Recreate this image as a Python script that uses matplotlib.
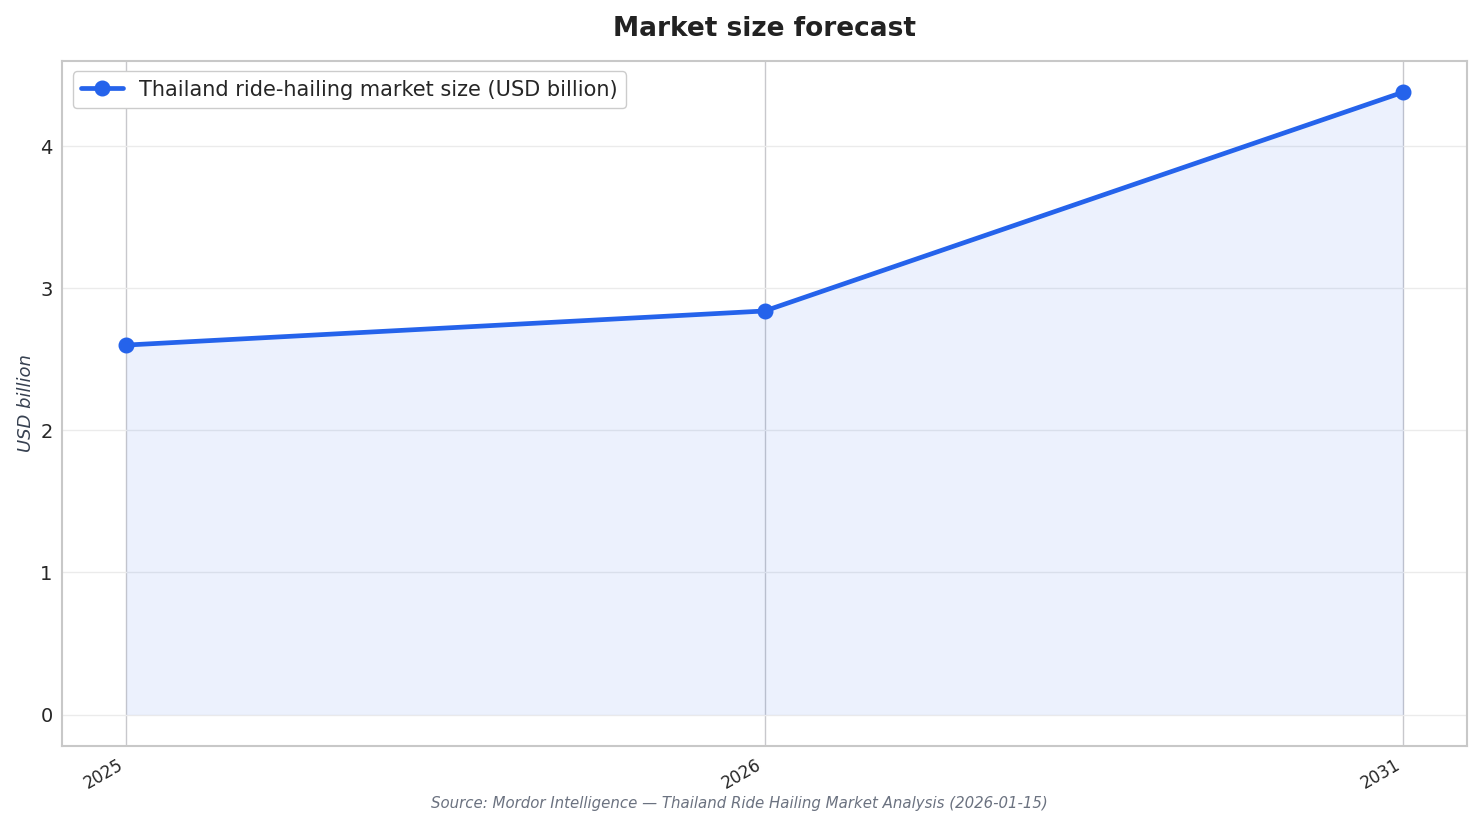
import matplotlib
matplotlib.use("Agg")
import matplotlib.pyplot as plt
import seaborn as sns

years = ["2025", "2026", "2031"]
market_size = [2.60, 2.84, 4.38]

sns.set_style("whitegrid")
plt.rcParams["font.family"] = ["DejaVu Sans"]

fig, ax = plt.subplots(figsize=(14.82, 8.24), dpi=100)
fig.subplots_adjust(left=0.042, right=0.99, top=0.926, bottom=0.095)

x = list(range(len(years)))
ax.fill_between(x, market_size, 0, color="#2563eb", alpha=0.085, linewidth=0)
ax.plot(x, market_size, color="#2563eb", linewidth=3.4, marker="o", markersize=10.5,
        label="Thailand ride-hailing market size (USD billion)")

ax.set_xticks(x)
ax.set_xticklabels(years, rotation=30, ha="right", fontsize=12)
ax.tick_params(axis="y", labelsize=14)
ax.set_ylabel("USD billion", fontsize=13, style="italic", color="#374151")
ax.set_title("Market size forecast", fontsize=19, fontweight="bold", color="#222222", pad=18)

ax.grid(axis="y", color="#ebebeb", linewidth=1)
ax.grid(axis="x", color="#c8c8cc", linewidth=1)
for s in ax.spines.values():
    s.set_color("#c8c8c8")
    s.set_linewidth(1.5)

ax.legend(loc="upper left", fontsize=15, frameon=True, edgecolor="#cccccc", framealpha=1)

fig.text(0.4987, 0.02, "Source: Mordor Intelligence \u2014 Thailand Ride Hailing Market Analysis (2026-01-15)",
         ha="center", fontsize=10.8, style="italic", color="#6b7280")

fig.savefig("out.png", dpi=100)
